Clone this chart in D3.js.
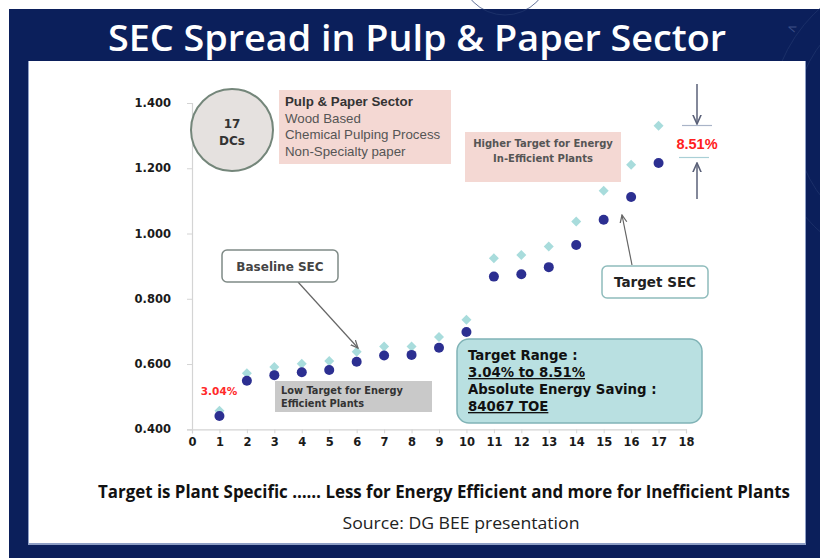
<!DOCTYPE html>
<html><head><meta charset="utf-8">
<script src="https://cdn.jsdelivr.net/npm/d3@7"></script>
<style>body{margin:0;background:#fff;}svg{display:block;}</style>
</head><body><div id="chart"></div>
<script>
const plants = [1,2,3,4,5,6,7,8,9,10,11,12,13,14,15,16,17];
const baselineSEC = [0.457,0.572,0.591,0.601,0.609,0.638,0.654,0.654,0.683,0.736,0.924,0.934,0.960,1.037,1.131,1.211,1.330];
const targetSEC   = [0.441,0.549,0.566,0.575,0.582,0.607,0.626,0.628,0.650,0.698,0.868,0.875,0.897,0.965,1.042,1.112,1.216];
const xTicks = d3.range(0,19);
const yTicks = [0.4,0.6,0.8,1.0,1.2,1.4];
const title = "SEC Spread in Pulp & Paper Sector";
const footnote = "Target is Plant Specific …… Less for Energy Efficient and more for Inefficient Plants";
const source = "Source: DG BEE presentation";

const W=820,H=558;
const svg=d3.select("#chart").append("svg").attr("width",W).attr("height",H);
const navy="#0b1f5b";
svg.append("rect").attr("width",W).attr("height",H).attr("fill","#fff");
svg.append("rect").attr("x",9).attr("y",9).attr("width",W-9).attr("height",H-9).attr("fill",navy);
// faint decorative arcs
const deco=svg.append("g").attr("fill","none").attr("stroke","#22376f").attr("stroke-width",1).attr("opacity",0.7);
deco.append("circle").attr("cx",505).attr("cy",-30).attr("r",45);
deco.append("circle").attr("cx",920).attr("cy",120).attr("r",150);
deco.append("circle").attr("cx",920).attr("cy",120).attr("r",125);
svg.append("text").attr("x",786).attr("y",30).attr("fill","#3d5088").attr("font-size",12).attr("font-family","DejaVu Sans").attr("transform","rotate(20,786,30)").text("<");
// panel shadow + panel
svg.append("rect").attr("x",28).attr("y",61).attr("width",778).attr("height",484).attr("fill","#8f9fc6");
svg.append("rect").attr("x",29).attr("y",61).attr("width",776).attr("height",482).attr("fill","#fff");

svg.append("text").attr("x",417).attr("y",51).attr("text-anchor","middle")
  .attr("font-family","Open Sans, sans-serif").attr("font-weight",600).attr("font-size",36)
  .attr("fill","#fff").attr("textLength",618).attr("lengthAdjust","spacingAndGlyphs").text(title);

const x=d3.scaleLinear().domain([0,18]).range([192,686]);
const y=d3.scaleLinear().domain([0.4,1.4]).range([429.3,103]);
const axFont="DejaVu Sans, Verdana, sans-serif";

const xa=svg.append("g").attr("transform","translate(0,429.3)")
  .call(d3.axisBottom(x).tickValues(xTicks).tickFormat(d3.format("d")).tickSize(4).tickPadding(5));
const ya=svg.append("g").attr("transform","translate(192,0)")
  .call(d3.axisLeft(y).tickValues(yTicks).tickFormat(d3.format(".3f")).tickSize(5).tickPadding(16));
[xa,ya].forEach(a=>{
  a.select(".domain").attr("stroke","#d4d4d4").attr("stroke-width",1.2);
  a.selectAll(".tick line").attr("stroke","#d4d4d4");
  a.selectAll("text").attr("font-family",axFont).attr("font-weight","bold").attr("font-size",11.5).attr("fill","#1a1a1a");
});

// baseline diamonds (square diamonds)
const dia="M0,-5L5,0L0,5L-5,0Z";
svg.append("g").selectAll("path").data(plants).join("path")
  .attr("d",dia)
  .attr("transform",(d,i)=>`translate(${x(d)},${y(baselineSEC[i])})`)
  .attr("fill","#a8dcdc");
svg.append("g").selectAll("circle").data(plants).join("circle")
  .attr("cx",d=>x(d)).attr("cy",(d,i)=>y(targetSEC[i])).attr("r",5)
  .attr("fill","#2c2f91");

// defs arrows
const defs=svg.append("defs");
function marker(id,color){
  defs.append("marker").attr("id",id).attr("viewBox","0 0 10 10").attr("refX",9).attr("refY",5)
    .attr("markerWidth",7).attr("markerHeight",7).attr("orient","auto")
    .append("path").attr("d","M0,1 L9,5 L0,9").attr("fill","none").attr("stroke",color).attr("stroke-width",1.5);
}
marker("ag","#666");
marker("an","#5a6078");

// 17 DCs circle
svg.append("circle").attr("cx",232).attr("cy",130).attr("r",41).attr("fill","#e5e1df").attr("stroke","#74867a").attr("stroke-width",2);
svg.append("text").attr("x",232).attr("y",128).attr("text-anchor","middle").attr("font-family",axFont).attr("font-weight","bold").attr("font-size",12).attr("fill","#333").text("17");
svg.append("text").attr("x",232).attr("y",145).attr("text-anchor","middle").attr("font-family",axFont).attr("font-weight","bold").attr("font-size",12).attr("fill","#333").text("DCs");

// Pink sector box
svg.append("rect").attr("x",279).attr("y",90).attr("width",172).attr("height",74).attr("fill","#f4d8d3");
const sLines=["Pulp & Paper Sector","Wood Based","Chemical Pulping Process","Non-Specialty paper"];
svg.append("g").selectAll("text").data(sLines).join("text")
  .attr("x",285).attr("y",(d,i)=>106+i*16.5).attr("font-family","Liberation Sans, Arial, sans-serif")
  .attr("font-size",13.3).attr("font-weight",(d,i)=>i===0?"bold":"normal").attr("fill",(d,i)=>i===0?"#333":"#555").text(d=>d);

// Higher target box
svg.append("rect").attr("x",465).attr("y",132).attr("width",156).attr("height",50).attr("fill","#f4d8d3");
["Higher Target for Energy","In-Efficient Plants"].forEach((t,i)=>
  svg.append("text").attr("x",543).attr("y",147+i*14.5).attr("text-anchor","middle").attr("font-family",axFont)
    .attr("font-weight","bold").attr("font-size",10).attr("fill","#555").text(t));

// 8.51% annotation
svg.append("line").attr("x1",697).attr("y1",84).attr("x2",697).attr("y2",124).attr("stroke","#5a6078").attr("stroke-width",1.5).attr("marker-end","url(#an)");
svg.append("line").attr("x1",682).attr("y1",125.5).attr("x2",712).attr("y2",125.5).attr("stroke","#a9b4c8").attr("stroke-width",1.2);
svg.append("line").attr("x1",679).attr("y1",157.5).attr("x2",709).attr("y2",157.5).attr("stroke","#a9cfd6").attr("stroke-width",1.2);
svg.append("line").attr("x1",697).attr("y1",199).attr("x2",697).attr("y2",163).attr("stroke","#5a6078").attr("stroke-width",1.5).attr("marker-end","url(#an)");
svg.append("text").attr("x",697).attr("y",149).attr("text-anchor","middle").attr("font-family","Liberation Sans, Arial, sans-serif")
  .attr("font-weight","bold").attr("font-size",14.5).attr("fill","#ff2020").text("8.51%");

// Target SEC box
svg.append("line").attr("x1",632).attr("y1",265).attr("x2",622).attr("y2",215).attr("stroke","#666").attr("stroke-width",1.2).attr("marker-end","url(#ag)");
svg.append("rect").attr("x",602).attr("y",266).attr("width",106).attr("height",32).attr("rx",5).attr("fill","#fff").attr("stroke","#8fbcbc").attr("stroke-width",1.5);
svg.append("text").attr("x",655).attr("y",287).attr("text-anchor","middle").attr("font-family",axFont).attr("font-weight","bold").attr("font-size",13.5).attr("fill","#222").text("Target SEC");

// Baseline SEC box
svg.append("line").attr("x1",298).attr("y1",282).attr("x2",358).attr("y2",348).attr("stroke","#666").attr("stroke-width",1.2).attr("marker-end","url(#ag)");
svg.append("rect").attr("x",222).attr("y",250).attr("width",116).attr("height",32).attr("rx",5).attr("fill","#fff").attr("stroke","#7f8a86").attr("stroke-width",1.5);
svg.append("text").attr("x",280).attr("y",271).attr("text-anchor","middle").attr("font-family",axFont).attr("font-weight","bold").attr("font-size",12).attr("fill","#444").text("Baseline SEC");

// 3.04%
svg.append("text").attr("x",219).attr("y",395).attr("text-anchor","middle").attr("font-family",axFont)
  .attr("font-weight","bold").attr("font-size",10.5).attr("fill","#ff2a2a").text("3.04%");

// Low target box
svg.append("rect").attr("x",275).attr("y",381).attr("width",157).attr("height",31).attr("fill","#c9c9c9");
["Low Target for Energy","Efficient Plants"].forEach((t,i)=>
  svg.append("text").attr("x",281).attr("y",394+i*12.5).attr("font-family",axFont)
    .attr("font-weight","bold").attr("font-size",9.8).attr("fill","#333").text(t));

// Target range box
svg.append("rect").attr("x",457).attr("y",339).attr("width",245).attr("height",84).attr("rx",12).attr("fill","#b9e0e1").attr("stroke","#80b3b6").attr("stroke-width",1.5);
const rLines=["Target Range :","3.04% to 8.51%","Absolute Energy Saving :","84067 TOE"];
rLines.forEach((t,i)=>{
  svg.append("text").attr("x",468).attr("y",360+i*17).attr("font-family",axFont).attr("font-weight","bold")
    .attr("font-size",13.3).attr("fill","#111").attr("text-decoration",i%2===1?"underline":null).text(t);
});

// footnote
svg.append("text").attr("x",444).attr("y",498).attr("text-anchor","middle").attr("font-family","Open Sans, sans-serif")
  .attr("font-weight",700).attr("font-size",17).attr("fill","#111").attr("textLength",692).attr("lengthAdjust","spacingAndGlyphs").text(footnote);
svg.append("text").attr("x",461).attr("y",529).attr("text-anchor","middle").attr("font-family","Open Sans, sans-serif")
  .attr("font-size",16).attr("fill","#222").attr("textLength",237).attr("lengthAdjust","spacingAndGlyphs").text(source);
</script></body></html>
